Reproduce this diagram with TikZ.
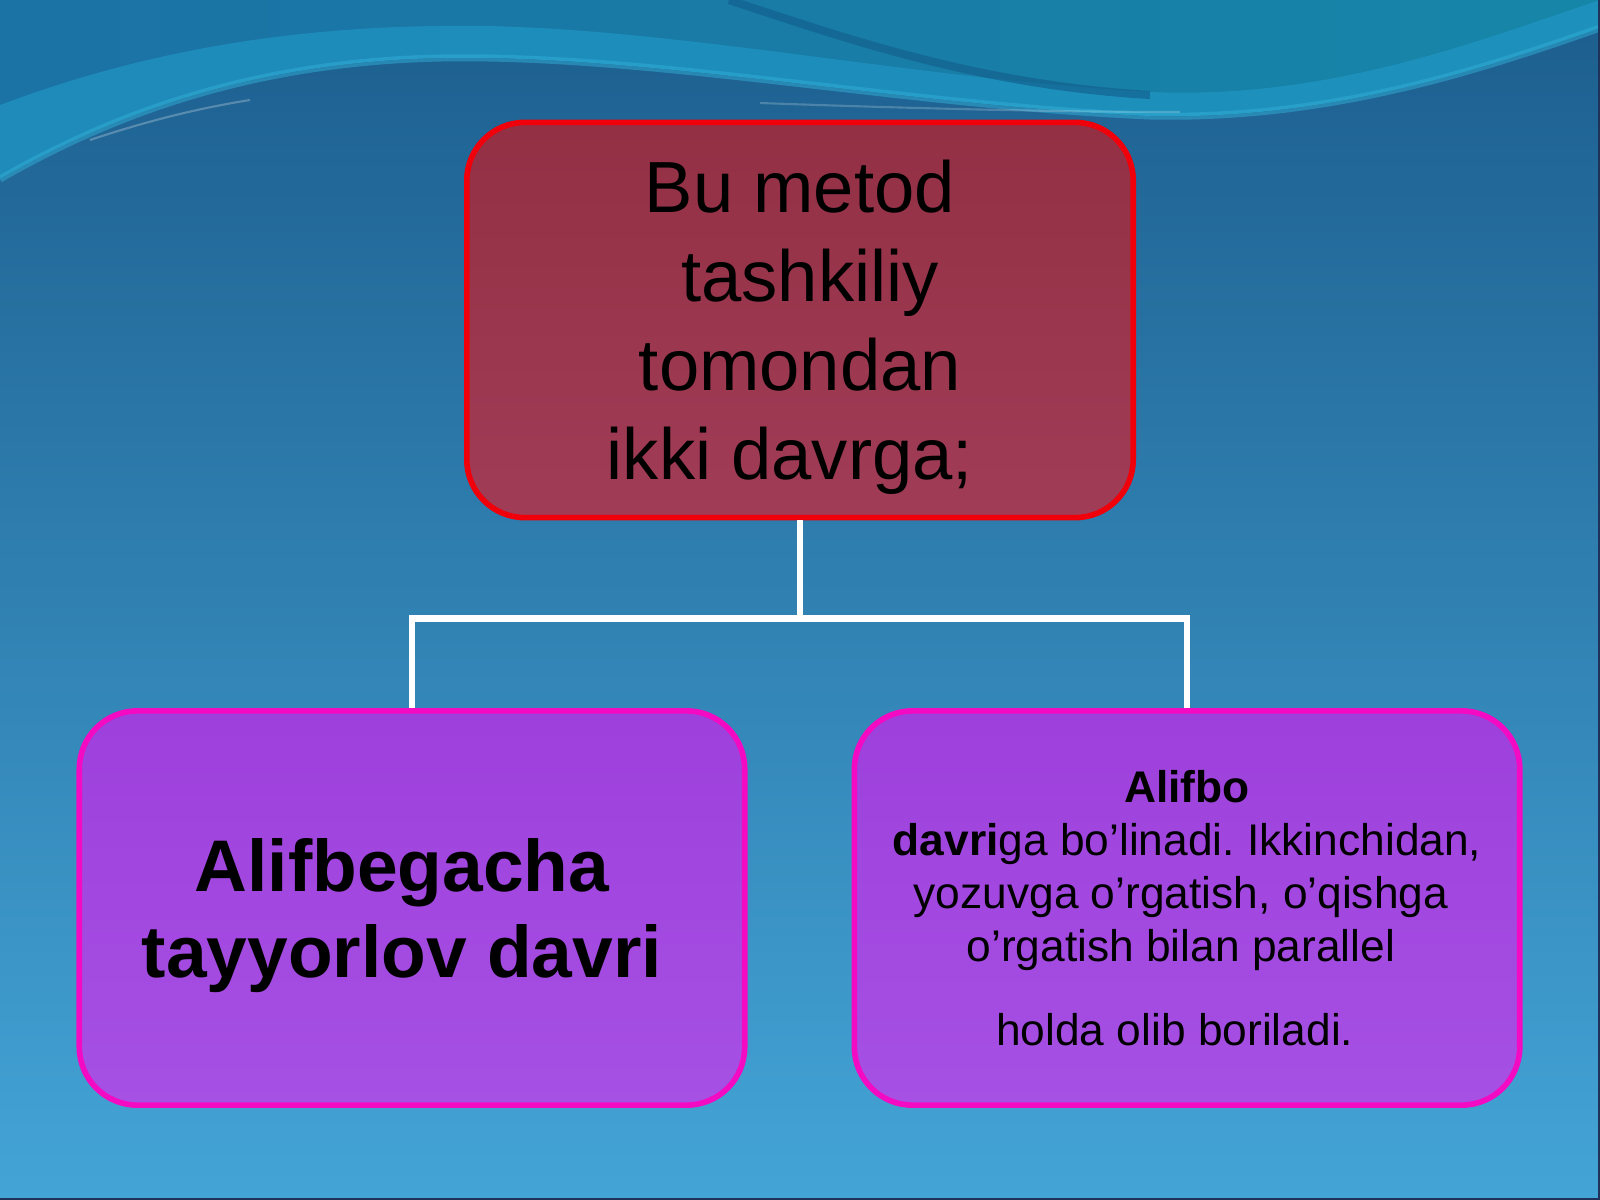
\documentclass[tikz,border=0pt]{standalone}
\usepackage{fontspec}
\setmainfont{Liberation Sans}
\usetikzlibrary{positioning}
\frenchspacing

\definecolor{skytop}{RGB}{28,94,142}
\definecolor{skymid}{RGB}{46,132,186}
\definecolor{skybot}{RGB}{68,164,214}
\definecolor{wavel}{RGB}{27,114,165}
\definecolor{waver}{RGB}{22,134,168}
\definecolor{waveband}{RGB}{32,150,196}
\definecolor{wavedark}{RGB}{18,92,138}
\definecolor{waveglow}{RGB}{50,175,215}
\definecolor{redtop}{RGB}{148,48,68}
\definecolor{redbot}{RGB}{160,60,86}
\definecolor{redline}{RGB}{240,0,10}
\definecolor{violettop}{RGB}{158,64,220}
\definecolor{violetbot}{RGB}{166,80,228}
\definecolor{pinkline}{RGB}{245,10,195}
\definecolor{frameline}{RGB}{30,50,90}

\tikzset{
	topbox/.style = {draw = redline, line width = 1.6pt, top color = redtop, bottom color = redbot,
		rounded corners = 0.58cm, minimum width = 6.66cm, minimum height = 3.95cm,
		align = center, text depth = 0pt, inner sep = 0pt,
		font = \fontsize{20.6pt}{25.3pt}\selectfont},
	subbox/.style = {draw = pinkline, line width = 1.6pt, top color = violettop, bottom color = violetbot,
		rounded corners = 0.58cm, minimum width = 6.65cm, minimum height = 3.94cm,
		align = center, text depth = 0pt, inner sep = 0pt},
	link/.style = {draw = white, line width = 1.9pt}
}
\newcommand{\gap}{\hspace*{0.278em}}

\begin{document}
\begin{tikzpicture}[x = 0.01cm, y = -0.01cm]
	\useasboundingbox (0, 0) rectangle (1600, 1200);
	% background
	\fill [top color = skytop, middle color = skymid, bottom color = skybot] (0, 0) rectangle (1600, 1200);
	\fill [left color = wavel, right color = waver] (0, 0) -- (1600, 0) -- (1600, 28)
		.. controls (1480, 70) and (1330, 120) .. (1150, 116)
		.. controls (900, 105) and (650, 54) .. (440, 58)
		.. controls (260, 62) and (120, 110) .. (0, 179) -- cycle;
	\fill [waveband, opacity = 0.7] (0, 179) .. controls (120, 110) and (260, 62) .. (440, 58)
		.. controls (650, 54) and (900, 105) .. (1150, 116)
		.. controls (1330, 120) and (1480, 70) .. (1600, 28) -- (1600, 0)
		.. controls (1480, 40) and (1330, 100) .. (1150, 92)
		.. controls (900, 78) and (650, 22) .. (440, 26)
		.. controls (260, 28) and (120, 60) .. (0, 105) -- cycle;
	\draw [waveglow, opacity = 0.5, line width = 2pt] (0, 179) .. controls (120, 110) and (260, 62) .. (440, 58)
		.. controls (650, 54) and (900, 105) .. (1150, 116)
		.. controls (1330, 120) and (1480, 70) .. (1600, 28);
	\draw [wavedark, opacity = 0.6, line width = 2.3pt] (729, 0) .. controls (850, 40) and (980, 85) .. (1150, 95);
	\draw [white, opacity = 0.25, line width = 0.6pt] (90, 140) .. controls (150, 120) and (200, 108) .. (250, 100);
	\draw [white, opacity = 0.2, line width = 0.6pt] (760, 103) .. controls (900, 108) and (1050, 112) .. (1180, 112);
	\draw [frameline, line width = 0.7pt] (0, 1199) -- (1599, 1199) -- (1599, 0);

	\node [topbox, text depth = -0.08cm] (method) at (800, 320) {Bu metod\\\gap tashkiliy\\tomondan\\ikki davrga;\gap};
	\node [subbox, font = \bfseries\fontsize{20.8pt}{24.7pt}\selectfont] (prep) at (412, 908) {Alifbegacha\gap\\tayyorlov davri\gap};
	\node [subbox, right = 1.04cm of prep, font = \fontsize{12.6pt}{15.1pt}\selectfont] (alphabet) {\textbf{Alifbo}\\\textbf{davri}ga bo’linadi. Ikkinchidan,\\yozuvga o’rgatish, o’qishga\gap\mbox{}\\o’rgatish bilan parallel\gap\mbox{}\\[8.8pt]holda olib boriladi.\gap\gap};

	\coordinate (fork) at ([yshift = -0.98cm]method.south);
	\draw [link] (method.south) -- (fork);
	\draw [link] (prep.north) |- (fork) -| (alphabet.north);
\end{tikzpicture}
\end{document}
